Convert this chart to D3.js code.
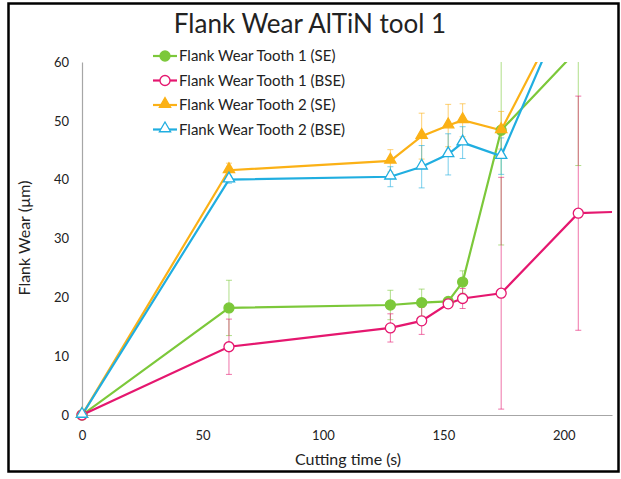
<!DOCTYPE html>
<html>
<head>
<meta charset="utf-8">
<script src="https://cdn.jsdelivr.net/npm/d3@7"></script>
<style>
  body { margin: 0; background: #fff; }
  text { font-family: Lato, "Open Sans", sans-serif; fill: #222; }
</style>
</head>
<body>
<svg id="chart" width="621" height="479"></svg>
<script>
// cutting time (s) of each measurement
const times = [0, 61, 128, 141, 152, 158, 174, 206, 240];

// flank wear (um) and error bar half-widths
const tooth1SE = [0, 18.2, 18.7, 19.1, 19.3, 22.6, 48.4, 62.2, null];
const tooth1SEerr = [0, 4.7, 2.5, 2.3, 0.5, 1.9, 19.5, 19.8, null];
const tooth1BSE = [0, 11.6, 14.8, 16.0, 18.9, 19.8, 20.7, 34.3, 34.8];
const tooth1BSEerr = [0, 4.7, 2.4, 2.3, 0.5, 1.7, 19.7, 19.9, 0];
const tooth2SE = [0, 41.6, 43.2, 47.4, 49.2, 50.1, 48.4, 73.7, null];
const tooth2SEerr = [0, 1.2, 1.9, 3.9, 3.6, 2.8, 3.2, 3.0, null];
const tooth2BSE = [0, 40.0, 40.5, 42.2, 44.3, 46.3, 44.0, 74.4, null];
const tooth2BSEerr = [0, 0.6, 1.7, 3.6, 3.5, 2.7, 3.1, 3.0, null];

const seriesNames = ["Flank Wear Tooth 1 (SE)", "Flank Wear Tooth 1 (BSE)",
                     "Flank Wear Tooth 2 (SE)", "Flank Wear Tooth 2 (BSE)"];
const xTicks = [0, 50, 100, 150, 200];
const yTicks = [0, 10, 20, 30, 40, 50, 60];

const series = [
    {name: seriesNames[0], vals: tooth1SE, err: tooth1SEerr, color: "#7cc83a", shape: "circle", open: false},
    {name: seriesNames[1], vals: tooth1BSE, err: tooth1BSEerr, color: "#e5176f", shape: "circle", open: true},
    {name: seriesNames[2], vals: tooth2SE, err: tooth2SEerr, color: "#fbb116", shape: "triangle", open: false},
    {name: seriesNames[3], vals: tooth2BSE, err: tooth2BSEerr, color: "#20aee0", shape: "triangle", open: true}
];

const svg = d3.select("#chart");

// outer frame
svg.append("rect")
    .attr("x", 8.5).attr("y", 3.5)
    .attr("width", 610).attr("height", 468)
    .attr("fill", "none").attr("stroke", "#000").attr("stroke-width", 2.5);

const x = d3.scaleLinear().domain([0, 220]).range([82, 612]);
const y = d3.scaleLinear().domain([0, 60]).range([415, 62]);

svg.append("defs").append("clipPath").attr("id", "plot")
    .append("rect")
    .attr("x", x(0)).attr("y", y(60))
    .attr("width", x(220) - x(0)).attr("height", y(0) - y(60));

// axes (plain grey lines, labels only)
const xAxis = svg.append("g").attr("transform", "translate(0," + y(0) + ")")
    .call(d3.axisBottom(x).tickValues(xTicks).tickSize(0).tickPadding(16));
const yAxis = svg.append("g").attr("transform", "translate(" + x(0) + ",0)")
    .call(d3.axisLeft(y).tickValues(yTicks).tickSize(0).tickPadding(13));
[xAxis, yAxis].forEach(function (a) {
    a.select(".domain").attr("stroke", "#a6a6a6").attr("stroke-width", 1.2);
    a.selectAll("text").style("font-size", "13px").attr("fill", "#333");
});

// titles
svg.append("text").attr("x", 310).attr("y", 33)
    .attr("text-anchor", "middle").style("font-size", "26px")
    .text("Flank Wear AlTiN tool 1");
svg.append("text").attr("x", 348).attr("y", 465)
    .attr("text-anchor", "middle").style("font-size", "16px")
    .text("Cutting time (s)");
svg.append("text")
    .attr("transform", "translate(30,238) rotate(-90)")
    .attr("text-anchor", "middle").style("font-size", "16px")
    .text("Flank Wear (µm)");

const plot = svg.append("g").attr("clip-path", "url(#plot)");

function pts(s) {
    let out = [];
    s.vals.forEach(function (v, i) {
        if (v !== null) out.push({t: times[i], v: v, e: s.err[i]});
    });
    return out;
}

// error bars
series.forEach(function (s) {
    let g = plot.append("g")
        .attr("stroke", s.color).attr("stroke-opacity", 0.6).attr("stroke-width", 1);
    pts(s).filter(function (d) { return d.e > 0; }).forEach(function (d) {
        g.append("line")
            .attr("x1", x(d.t)).attr("x2", x(d.t))
            .attr("y1", y(d.v - d.e)).attr("y2", y(d.v + d.e));
        [d.v - d.e, d.v + d.e].forEach(function (yy) {
            g.append("line")
                .attr("x1", x(d.t) - 3).attr("x2", x(d.t) + 3)
                .attr("y1", y(yy)).attr("y2", y(yy));
        });
    });
});

// lines
const line = d3.line().x(function (d) { return x(d.t); }).y(function (d) { return y(d.v); });
series.forEach(function (s) {
    plot.append("path").datum(pts(s))
        .attr("d", line)
        .attr("fill", "none").attr("stroke", s.color).attr("stroke-width", 2.2);
});

function marker(g, s, cx, cy) {
    let m;
    if (s.shape === "circle") {
        m = g.append("circle").attr("cx", cx).attr("cy", cy).attr("r", 5);
    } else {
        m = g.append("path")
            .attr("d", d3.symbol().type(d3.symbolTriangle).size(55)())
            .attr("transform", "translate(" + cx + "," + (cy - 1) + ")");
    }
    m.attr("fill", s.open ? "#fff" : s.color)
        .attr("stroke", s.color).attr("stroke-width", 1.3);
}

// markers (only those inside the axis range)
series.forEach(function (s) {
    let g = svg.append("g");
    pts(s).filter(function (d) { return d.t <= 220 && d.v <= 60; }).forEach(function (d) {
        marker(g, s, x(d.t), y(d.v));
    });
});

// legend
const legend = svg.append("g");
series.forEach(function (s, i) {
    let ly = 56 + i * 24.5;
    legend.append("line")
        .attr("x1", 153).attr("x2", 177).attr("y1", ly).attr("y2", ly)
        .attr("stroke", s.color).attr("stroke-width", 2.2);
    marker(legend, s, 165, ly);
    legend.append("text").attr("x", 179).attr("y", ly + 5)
        .style("font-size", "15px").text(s.name);
});
</script>
</body>
</html>
